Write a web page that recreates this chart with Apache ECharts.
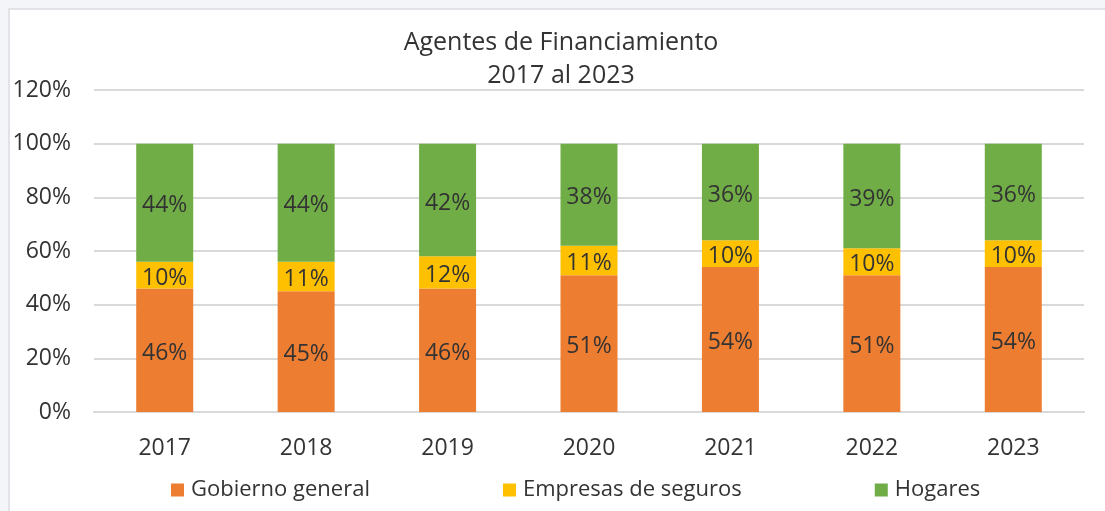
<!DOCTYPE html>
<html>
<head>
<meta charset="utf-8">
<script src="https://cdn.jsdelivr.net/npm/echarts@6/dist/echarts.min.js"></script>
<style>
  html, body { margin: 0; padding: 0; background: #f4f5f9; }
  #frame {
    position: absolute; left: 8px; top: 8px; width: 1097px; height: 503px;
    background: #fff; border-top: 2px solid #e2e3e7; border-left: 2px solid #e2e3e7;
    box-sizing: border-box;
  }
  #chart { position: absolute; left: 0; top: 0; width: 1105px; height: 511px; }
</style>
</head>
<body>
<div id="frame"></div>
<div id="chart"></div>
<script>
const years = ["2017", "2018", "2019", "2020", "2021", "2022", "2023"];
const gobierno = [46, 45, 46, 51, 54, 51, 54];
const seguros = [10, 11, 12, 11, 10, 10, 10];
const hogares = [44, 44, 42, 38, 36, 39, 36];
const yTicks = [0, 20, 40, 60, 80, 100, 120];

const font = "Open Sans";
const textColor = "#333333";

function barSeries(name, data, color) {
  return {
    name: name,
    type: "bar",
    stack: "total",
    barWidth: 57,
    data: data,
    itemStyle: { color: color },
    label: {
      show: true,
      position: "inside",
      offset: [0, 3],
      formatter: "{c}%",
      color: textColor,
      fontFamily: font,
      fontSize: 23
    }
  };
}

const chart = echarts.init(document.getElementById("chart"));
chart.setOption({
  backgroundColor: "transparent",
  animation: false,
  title: {
    text: "Agentes de Financiamiento\n2017 al 2023",
    left: 556,
    top: 21,
    textAlign: "center",
    textStyle: {
      color: textColor,
      fontFamily: font,
      fontSize: 25,
      fontWeight: "normal",
      lineHeight: 33
    }
  },
  legend: {
    left: 166,
    top: 474,
    itemWidth: 13,
    itemHeight: 13,
    itemGap: 133,
    icon: "rect",
    textStyle: { color: textColor, fontFamily: font, fontSize: 22, padding: [0, 0, 0, 2] },
    data: ["Gobierno general", "Empresas de seguros", "Hogares"]
  },
  grid: { left: 94, top: 90, width: 990, height: 322, containLabel: false },
  xAxis: {
    type: "category",
    data: years,
    axisTick: { show: false },
    axisLine: { lineStyle: { color: "#d9d9d9", width: 2 } },
    axisLabel: { color: textColor, fontFamily: font, fontSize: 23, margin: 25 }
  },
  yAxis: {
    type: "value",
    min: yTicks[0],
    max: yTicks[yTicks.length - 1],
    interval: yTicks[1] - yTicks[0],
    axisLine: { show: false },
    axisTick: { show: false },
    splitLine: { lineStyle: { color: "#d9d9d9", width: 2 } },
    axisLabel: {
      color: textColor, fontFamily: font, fontSize: 23, margin: 23,
      padding: [5, 0, 0, 0], formatter: "{value}%"
    }
  },
  series: [
    barSeries("Gobierno general", gobierno, "#ed7d31"),
    barSeries("Empresas de seguros", seguros, "#ffc000"),
    barSeries("Hogares", hogares, "#70ad47")
  ]
});
</script>
</body>
</html>
